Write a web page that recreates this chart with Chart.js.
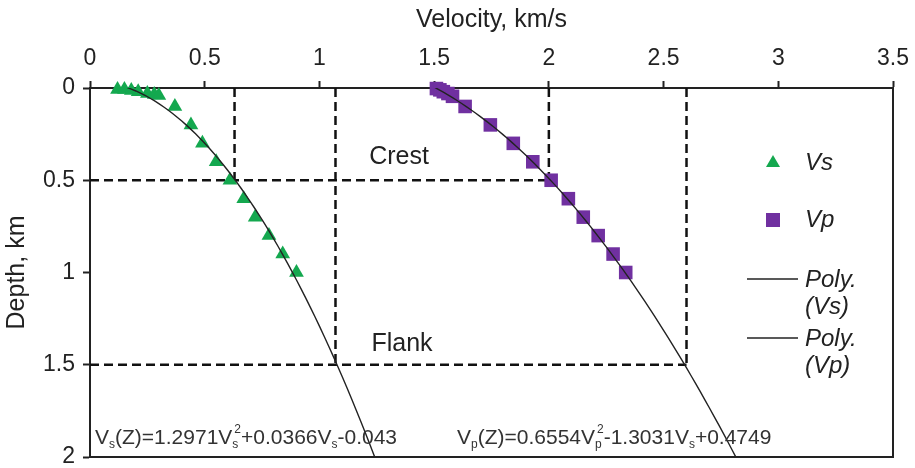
<!DOCTYPE html>
<html>
<head>
<meta charset="utf-8">
<title>Velocity vs depth</title>
<script src="https://cdn.jsdelivr.net/npm/chart.js@4.4.1/dist/chart.umd.min.js"></script>
<style>
  html, body { margin: 0; padding: 0; background: #fff; }
  #wrap { width: 915px; height: 468px; }
</style>
</head>
<body>
<div id="wrap"><canvas id="myChart" width="915" height="468"></canvas></div>
<script>
// ── measured velocities (km/s) against depth (km) ──
const vsVel   = [0.12, 0.15, 0.18, 0.21, 0.25, 0.28, 0.30, 0.37, 0.44, 0.49, 0.55, 0.61, 0.67, 0.72, 0.78, 0.84, 0.90];
const vsDepth = [0.008, 0.008, 0.014, 0.02, 0.03, 0.035, 0.04, 0.1, 0.2, 0.3, 0.4, 0.5, 0.6, 0.7, 0.8, 0.9, 1.0];
const vpVel   = [1.51, 1.525, 1.54, 1.56, 1.58, 1.635, 1.745, 1.845, 1.93, 2.01, 2.085, 2.15, 2.215, 2.28, 2.335];
const vpDepth = [0.003, 0.01, 0.02, 0.03, 0.045, 0.1, 0.2, 0.3, 0.4, 0.5, 0.6, 0.7, 0.8, 0.9, 1.0];

// polynomial trends, depth = a*V^2 + b*V + c
const vsPoly  = [1.2971, 0.0366, -0.043];
const vpPoly  = [0.6554, -1.3031, 0.4749];
const vsRange = [0.12, 1.25];
const vpRange = [1.50, 2.82];

// crest / flank guides
const guideDepth = [0.5, 1.5];
const guideVs    = [0.63, 1.07];
const guideVp    = [2.0, 2.6];

const xTicks = [0, 0.5, 1, 1.5, 2, 2.5, 3, 3.5];
const yTicks = [0, 0.5, 1, 1.5, 2];

const FONT   = '"Liberation Sans", Arial, sans-serif';
const INK    = '#222';
const GREEN  = '#14a84f';
const PURPLE = '#7030a0';

const pts = (xs, ys) => xs.map((x, i) => ({ x, y: ys[i] }));

function polyCurve(coef, range) {
  const out = [];
  for (let v = range[0]; v <= range[1] + 1e-9; v += 0.02)
    out.push({ x: v, y: coef[0] * v * v + coef[1] * v + coef[2] });
  return out;
}

function dashed(data) {
  return { data, showLine: true, borderColor: '#111', borderWidth: 2.5, borderDash: [9, 5],
           pointRadius: 0, order: 3 };
}

const datasets = [
  { label: 'Poly. (Vs)', data: polyCurve(vsPoly, vsRange), showLine: true, borderColor: INK,
    borderWidth: 1.4, pointRadius: 0, order: 0 },
  { label: 'Poly. (Vp)', data: polyCurve(vpPoly, vpRange), showLine: true, borderColor: INK,
    borderWidth: 1.4, pointRadius: 0, order: 0 },
  { label: 'Vs', data: pts(vsVel, vsDepth), pointStyle: 'triangle', pointRadius: 8.5,
    backgroundColor: GREEN, borderColor: GREEN, borderWidth: 0, clip: false, order: 1 },
  { label: 'Vp', data: pts(vpVel, vpDepth), pointStyle: 'rect', pointRadius: 9.6,
    backgroundColor: PURPLE, borderColor: PURPLE, borderWidth: 0, clip: false, order: 1 },
];
// horizontal guides reach the Vp curve, verticals drop from the top axis
guideDepth.forEach((d, i) => {
  datasets.push(dashed([{ x: 0, y: d }, { x: guideVp[i], y: d }]));
  datasets.push(dashed([{ x: guideVs[i], y: 0 }, { x: guideVs[i], y: d }]));
  datasets.push(dashed([{ x: guideVp[i], y: 0 }, { x: guideVp[i], y: d }]));
});

// equation text built from the trend coefficients
function sign(n) { return (n < 0 ? '-' : '+') + Math.abs(n); }
const eqVs = [['V', ''], ['s', 'sub'], ['(Z)=' + vsPoly[0] + 'V', ''], ['s', 'sub'], ['2', 'sup'],
              [sign(vsPoly[1]) + 'V', ''], ['s', 'sub'], [sign(vsPoly[2]), '']];
const eqVp = [['V', ''], ['p', 'sub'], ['(Z)=' + vpPoly[0] + 'V', ''], ['p', 'sub'], ['2', 'sup'],
              [sign(vpPoly[1]) + 'V', ''], ['s', 'sub'], [sign(vpPoly[2]), '']];

function drawRich(ctx, x, y, parts, size) {
  const small = Math.round(size * 0.58);
  let subX = 0;
  parts.forEach(([t, kind]) => {
    if (kind === '') {
      ctx.font = `${size}px ${FONT}`;
      ctx.fillText(t, x, y);
      x += ctx.measureText(t).width;
    } else if (kind === 'sub') {
      ctx.font = `${small}px ${FONT}`;
      subX = x;
      ctx.fillText(t, x, y + size * 0.32);
      x += ctx.measureText(t).width;
    } else {
      // superscript stacked over the preceding subscript
      ctx.font = `${small}px ${FONT}`;
      const w = ctx.measureText(t).width;
      ctx.fillText(t, subX + 2, y - size * 0.38);
      x = Math.max(x, subX + 2 + w);
    }
  });
}

const extras = {
  id: 'extras',
  afterDraw(chart) {
    const { ctx, chartArea: a } = chart;
    ctx.save();
    // right and bottom of the frame
    ctx.strokeStyle = INK;
    ctx.lineWidth = 2;
    ctx.beginPath();
    ctx.moveTo(a.right, a.top);
    ctx.lineTo(a.right, a.bottom);
    ctx.lineTo(a.left, a.bottom);
    ctx.stroke();

    ctx.fillStyle = INK;
    ctx.textBaseline = 'middle';
    ctx.textAlign = 'center';
    ctx.font = `25px ${FONT}`;
    ctx.fillText('Crest', 399, 157);
    ctx.fillText('Flank', 402, 344);

    ctx.textAlign = 'left';
    ctx.fillStyle = '#333';
    drawRich(ctx, 95, 438, eqVs, 21);
    drawRich(ctx, 457, 438, eqVp, 21);

    // legend
    const ds = chart.data.datasets;
    ctx.fillStyle = GREEN;
    ctx.beginPath();
    ctx.moveTo(773, 163 - 8); ctx.lineTo(773 + 7, 163 + 4); ctx.lineTo(773 - 7, 163 + 4);
    ctx.closePath(); ctx.fill();
    ctx.fillStyle = PURPLE;
    ctx.fillRect(766, 213, 14, 14);

    ctx.strokeStyle = INK;
    ctx.lineWidth = 1.4;
    [279, 338].forEach(y => {
      ctx.beginPath(); ctx.moveTo(747, y); ctx.lineTo(798, y); ctx.stroke();
    });

    ctx.fillStyle = INK;
    ctx.font = `italic 24px ${FONT}`;
    ctx.fillText(ds[2].label, 805, 163);
    ctx.fillText(ds[3].label, 805, 220);
    ctx.fillText('Poly.', 805, 280);
    ctx.fillText('(Vs)', 805, 307);
    ctx.fillText('Poly.', 805, 339);
    ctx.fillText('(Vp)', 805, 366);
    ctx.restore();
  }
};

const axisGrid = { drawOnChartArea: false, drawTicks: true, tickLength: 7, tickWidth: 2, tickColor: INK };

new Chart(document.getElementById('myChart').getContext('2d'), {
  type: 'scatter',
  data: { datasets },
  options: {
    responsive: false,
    animation: false,
    events: [],
    layout: { padding: { left: 0, top: 0, right: 22, bottom: 11 } },
    plugins: { legend: { display: false }, tooltip: { enabled: false } },
    scales: {
      x: {
        type: 'linear', position: 'top', min: 0, max: 3.5,
        afterBuildTicks: s => { s.ticks = xTicks.map(value => ({ value })); },
        afterFit: s => { s.height = 88; s.paddingLeft = 0; s.paddingRight = 0; },
        grid: axisGrid,
        border: { display: true, color: INK, width: 2 },
        ticks: { color: INK, padding: 9, font: { family: FONT, size: 23 }, callback: v => String(v) },
        title: { display: true, text: 'Velocity, km/s', color: INK, padding: { top: 5 },
                 font: { family: FONT, size: 25 } }
      },
      y: {
        type: 'linear', reverse: true, min: 0, max: 2,
        afterBuildTicks: s => { s.ticks = yTicks.map(value => ({ value })); },
        afterFit: s => { s.width = 90; s.paddingTop = 0; s.paddingBottom = 0; },
        grid: axisGrid,
        border: { display: true, color: INK, width: 2 },
        ticks: { color: INK, padding: 8, font: { family: FONT, size: 23 }, callback: v => String(v) },
        title: { display: true, text: 'Depth, km', color: INK, padding: { top: 2 },
                 font: { family: FONT, size: 25 } }
      }
    }
  },
  plugins: [extras]
});
</script>
</body>
</html>
